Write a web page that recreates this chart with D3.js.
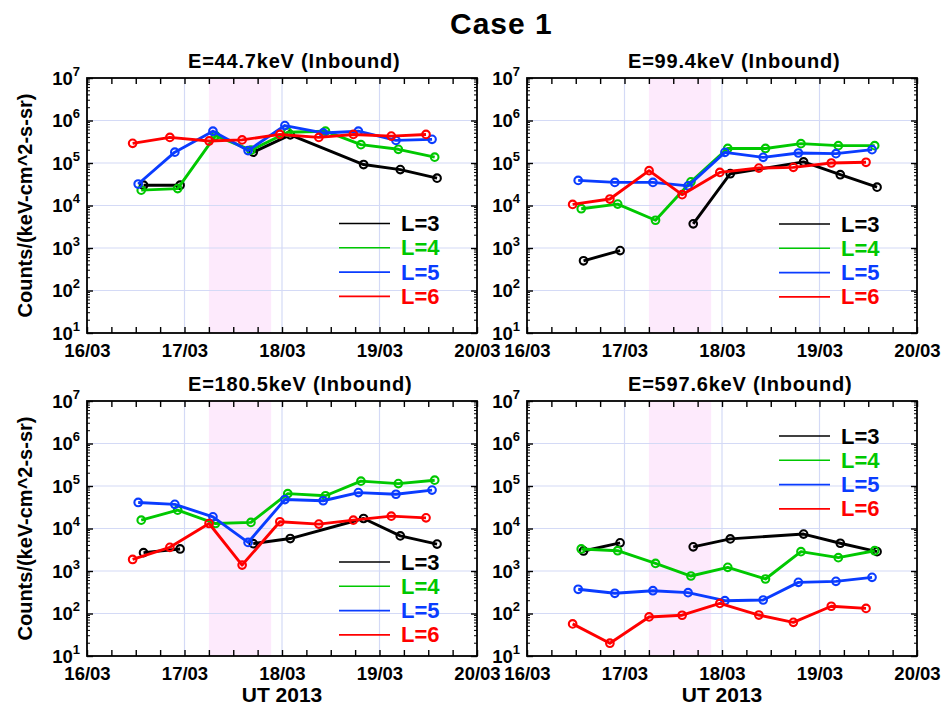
<!DOCTYPE html>
<html>
<head>
<meta charset="utf-8">
<script src="https://cdn.jsdelivr.net/npm/d3@7"></script>
<style>
  body { margin: 0; background: #fff; }
  text { font-family: "Liberation Sans", Arial, Helvetica, sans-serif; font-weight: bold; fill: #000; }
</style>
</head>
<body>
<svg id="chart" width="947" height="710"></svg>
<script>
// Inbound-pass crossing times (UT) for each L shell
const timesL3 = ["2013-03-16T13:55Z", "2013-03-16T22:55Z", "2013-03-17T08:00Z", "2013-03-17T16:55Z",
                 "2013-03-18T02:02Z", "2013-03-18T20:05Z", "2013-03-19T05:07Z", "2013-03-19T14:10Z"];
const timesL4 = ["2013-03-16T13:21Z", "2013-03-16T22:19Z", "2013-03-17T07:38Z", "2013-03-17T16:21Z",
                 "2013-03-18T01:25Z", "2013-03-18T10:42Z", "2013-03-18T19:26Z", "2013-03-19T04:38Z", "2013-03-19T13:35Z"];
const timesL5 = ["2013-03-16T12:36Z", "2013-03-16T21:37Z", "2013-03-17T07:00Z", "2013-03-17T15:39Z",
                 "2013-03-18T00:43Z", "2013-03-18T10:08Z", "2013-03-18T18:48Z", "2013-03-19T04:03Z", "2013-03-19T12:56Z"];
const timesL6 = ["2013-03-16T11:14Z", "2013-03-16T20:24Z", "2013-03-17T06:03Z", "2013-03-17T14:11Z",
                 "2013-03-17T23:28Z", "2013-03-18T09:04Z", "2013-03-18T17:34Z", "2013-03-19T02:54Z", "2013-03-19T11:27Z"];

// Counts/(keV-cm^2-s-sr); null marks a pass with no L=3 value
const e44L3 = [3.0e4, 3.0e4, null, 1.8e5, 4.6e5, 9.2e4, 7.0e4, 4.4e4];
const e44L4 = [2.3e4, 2.5e4, 4.4e5, 2.0e5, 5.3e5, 5.6e5, 2.7e5, 2.1e5, 1.37e5];
const e44L5 = [3.2e4, 1.8e5, 5.6e5, 1.96e5, 7.6e5, 5.1e5, 5.6e5, 3.4e5, 3.6e5];
const e44L6 = [2.9e5, 4.0e5, 3.3e5, 3.5e5, 4.7e5, 4.0e5, 4.7e5, 4.3e5, 4.7e5];

const e99L3 = [5.0e2, 8.7e2, null, 3.7e3, 5.6e4, 1.06e5, 5.3e4, 2.7e4];
const e99L4 = [8.4e3, 1.08e4, 4.5e3, 3.6e4, 2.2e5, 2.2e5, 2.85e5, 2.56e5, 2.56e5];
const e99L5 = [3.9e4, 3.5e4, 3.5e4, 2.9e4, 1.78e5, 1.36e5, 1.72e5, 1.66e5, 2.06e5];
const e99L6 = [1.06e4, 1.42e4, 6.6e4, 1.8e4, 6.0e4, 7.6e4, 7.9e4, 1.0e5, 1.04e5];

const e180L3 = [2.7e3, 3.3e3, null, 4.4e3, 5.8e3, 1.72e4, 6.7e3, 4.3e3];
const e180L4 = [1.57e4, 2.7e4, 1.31e4, 1.39e4, 6.6e4, 5.9e4, 1.30e5, 1.14e5, 1.37e5];
const e180L5 = [4.1e4, 3.7e4, 1.88e4, 4.7e3, 4.8e4, 4.5e4, 7.0e4, 6.4e4, 8.0e4];
const e180L6 = [1.87e3, 3.6e3, 1.31e4, 1.38e3, 1.44e4, 1.27e4, 1.57e4, 1.95e4, 1.78e4];

const e597L3 = [2.96e3, 4.6e3, null, 3.7e3, 5.7e3, 7.4e3, 4.5e3, 2.85e3];
const e597L4 = [3.3e3, 3.0e3, 1.51e3, 762, 1.22e3, 649, 2.85e3, 2.06e3, 3.0e3];
const e597L5 = [371, 299, 344, 309, 200, 208, 541, 571, 710];
const e597L6 = [57, 20, 83, 91, 173, 92, 62, 148, 132];

const energies = ["44.7", "99.4", "180.5", "597.6"];
const shellLabels = ["L=3", "L=4", "L=5", "L=6"];
const shellColors = ["#000000", "#00c800", "#0a3cff", "#ff0000"];
const dayTicks = ["2013-03-16", "2013-03-17", "2013-03-18", "2013-03-19", "2013-03-20"];
const decades = [1e1, 1e2, 1e3, 1e4, 1e5, 1e6, 1e7];
const stormStart = "2013-03-17T06:00Z";
const stormEnd = "2013-03-17T21:20Z";

const shellTimes = [timesL3, timesL4, timesL5, timesL6];
const panelValues = [
  [e44L3, e44L4, e44L5, e44L6],
  [e99L3, e99L4, e99L5, e99L6],
  [e180L3, e180L4, e180L5, e180L6],
  [e597L3, e597L4, e597L5, e597L6]
];

// layout of the 2x2 grid of panels
const W = 390, H = 255;
const panelLeft = [87, 527, 87, 527];
const panelTop = [78, 78, 401, 401];
const legendTop = [145.5, 146, 161, 35];

const svg = d3.select("#chart");
const parse = d3.isoParse;
const fmtDay = d3.utcFormat("%d/%m");

svg.append("text")
  .attr("x", 450).attr("y", 34)
  .attr("font-size", 30).attr("letter-spacing", 1)
  .text("Case 1");

const x = d3.scaleUtc()
  .domain([parse(dayTicks[0]), parse(dayTicks[dayTicks.length - 1])])
  .range([0, W]);
const y = d3.scaleLog().domain([1e1, 1e7]).range([H, 0]);

const line = d3.line()
  .defined(d => d.v != null)
  .x(d => x(d.t))
  .y(d => y(d.v));

energies.forEach((energy, p) => {
  const g = svg.append("g").attr("transform", `translate(${panelLeft[p]},${panelTop[p]})`);

  // storm interval shading
  g.append("rect")
    .attr("x", x(parse(stormStart))).attr("y", 0)
    .attr("width", x(parse(stormEnd)) - x(parse(stormStart)))
    .attr("height", H)
    .attr("fill", "#fdeafc");

  // grid
  const grid = g.append("g").attr("stroke", "#d4daf6").attr("stroke-width", 1.2);
  grid.selectAll("line.v").data(dayTicks.slice(1, -1)).join("line")
    .attr("x1", d => x(parse(d))).attr("x2", d => x(parse(d)))
    .attr("y1", 0).attr("y2", H);
  grid.selectAll("line.h").data(decades.slice(1, -1)).join("line")
    .attr("x1", 0).attr("x2", W)
    .attr("y1", d => y(d)).attr("y2", d => y(d));

  // x axes (ticks every 6 h, labels at midnight)
  const xb = g.append("g").attr("transform", `translate(0,${H})`)
    .call(d3.axisBottom(x).ticks(d3.utcHour.every(6)).tickSizeInner(-6).tickSizeOuter(0)
      .tickPadding(11).tickFormat(d => d.getUTCHours() === 0 ? fmtDay(d) : ""));
  const xt = g.append("g")
    .call(d3.axisTop(x).ticks(d3.utcHour.every(6)).tickSizeInner(-6).tickSizeOuter(0).tickFormat(""));

  // y axes (decades) on both sides
  const yl = g.append("g")
    .call(d3.axisLeft(y).tickValues(decades).tickSizeInner(-6).tickSizeOuter(0).tickFormat(""));
  const yr = g.append("g").attr("transform", `translate(${W},0)`)
    .call(d3.axisRight(y).tickValues(decades).tickSizeInner(-6).tickSizeOuter(0).tickFormat(""));

  [xb, xt, yl, yr].forEach(a => {
    a.select(".domain").remove();
    a.selectAll(".tick line").attr("stroke", "#000").attr("stroke-width", 1.4);
    a.selectAll(".tick text").attr("font-size", 18.5).attr("font-family", null).attr("fill", "#000");
  });

  // minor log ticks
  const minors = [];
  decades.slice(0, -1).forEach(d => { for (let m = 2; m <= 9; m++) minors.push(d * m); });
  const mg = g.append("g").attr("stroke", "#000").attr("stroke-width", 1);
  mg.selectAll("line.l").data(minors).join("line")
    .attr("x1", 0).attr("x2", 3).attr("y1", d => y(d)).attr("y2", d => y(d));
  mg.selectAll("line.r").data(minors).join("line")
    .attr("x1", W - 3).attr("x2", W).attr("y1", d => y(d)).attr("y2", d => y(d));

  // y tick labels as 10^n
  const yLab = g.append("g").selectAll("text").data(decades).join("text")
    .attr("x", -7).attr("y", d => y(d) + 6.5)
    .attr("text-anchor", "end");
  yLab.append("tspan").attr("font-size", 18.5).text("10");
  yLab.append("tspan").attr("font-size", 13).attr("dy", -9).text(d => Math.round(Math.log10(d)));

  // frame
  g.append("rect").attr("width", W).attr("height", H)
    .attr("fill", "none").attr("stroke", "#000").attr("stroke-width", 1.8);

  // series
  panelValues[p].forEach((vals, i) => {
    const pts = vals.map((v, k) => ({ t: parse(shellTimes[i][k]), v }));
    g.append("path").datum(pts)
      .attr("d", line)
      .attr("fill", "none")
      .attr("stroke", shellColors[i])
      .attr("stroke-width", 2.9)
      .attr("stroke-linejoin", "round");
    g.append("g").selectAll("circle").data(pts.filter(d => d.v != null)).join("circle")
      .attr("cx", d => x(d.t)).attr("cy", d => y(d.v))
      .attr("r", 3.8)
      .attr("fill", "none")
      .attr("stroke", shellColors[i])
      .attr("stroke-width", 2.1);
  });

  // legend
  const lg = g.append("g").attr("transform", `translate(0,${legendTop[p]})`);
  shellLabels.forEach((lab, i) => {
    const ly = i * 24.3;
    lg.append("line").attr("x1", 252).attr("x2", 303).attr("y1", ly).attr("y2", ly)
      .attr("stroke", shellColors[i]).attr("stroke-width", 1.6);
    lg.append("text").attr("x", 314).attr("y", ly + 7.5)
      .attr("font-size", 22).style("fill", shellColors[i]).text(lab);
  });

  // panel title
  g.append("text").attr("x", 101).attr("y", -10)
    .attr("font-size", 20).attr("letter-spacing", 0.8)
    .text(`E=${energy}keV (Inbound)`);

  // axis titles
  if (p % 2 === 0) {
    g.append("text")
      .attr("transform", `translate(${-55},${H / 2}) rotate(-90)`)
      .attr("text-anchor", "middle")
      .attr("font-size", 20)
      .text("Counts/(keV-cm^2-s-sr)");
  }
  if (p >= 2) {
    g.append("text").attr("x", W / 2).attr("y", H + 46)
      .attr("text-anchor", "middle").attr("font-size", 21)
      .text("UT 2013");
  }
});
</script>
</body>
</html>
